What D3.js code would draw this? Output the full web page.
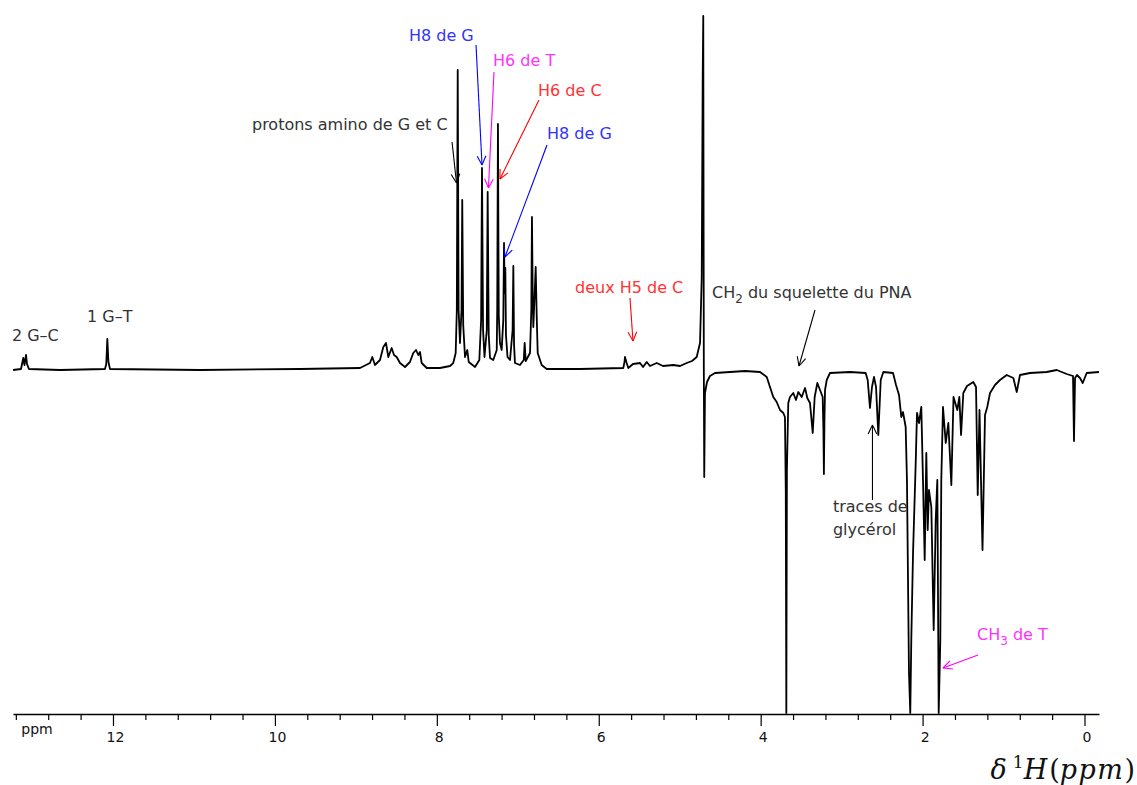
<!DOCTYPE html>
<html>
<head>
<meta charset="utf-8">
<script src="https://cdn.jsdelivr.net/npm/d3@7"></script>
<style>
  body { margin: 0; background: #fff; }
  svg { display: block; }
</style>
</head>
<body>
<div id="chart"></div>
<script>
// spectrum: [ppm, intensity] (baseline = 0)
const iminoRegion = [[13.235,0],[13.136,1],[13.108,12],[13.093,5],[13.074,15],[13.062,6],[13.038,1],
  [12.655,0],[12.099,1],[12.083,6],[12.070,31],[12.056,8],[12.037,1],[10.925,0],[9.690,1],[8.949,2]];

const aromaticRegion = [[8.826,7],[8.797,13],[8.764,5],[8.702,10],[8.661,23],[8.628,27],[8.599,13],
  [8.558,22],[8.529,15],[8.496,13],[8.455,7],[8.393,3],[8.332,8],[8.291,17],[8.257,20],[8.229,15],
  [8.208,18],[8.187,7],[8.125,2],[7.961,2],[7.837,4],[7.797,7],[7.767,17],[7.753,60],[7.742,300],
  [7.731,60],[7.714,27],[7.695,60],[7.686,170],[7.674,45],[7.652,13],[7.624,20],[7.606,8],[7.528,3],
  [7.475,10],[7.453,50],[7.442,202],[7.429,40],[7.411,13],[7.383,40],[7.372,178],[7.359,35],[7.343,12],
  [7.303,10],[7.260,20],[7.254,60],[7.245,246],[7.235,55],[7.220,27],[7.199,20],[7.179,50],[7.170,127],
  [7.162,77],[7.154,102],[7.146,35],[7.127,13],[7.096,10],[7.064,40],[7.055,104],[7.046,25],[7.035,7],
  [6.973,5],[6.926,10],[6.915,27],[6.902,9],[6.849,17],[6.833,60],[6.825,153],[6.815,70],[6.808,43],
  [6.791,77],[6.779,103],[6.766,53],[6.754,17],[6.705,5],[6.643,1],[6.232,1]];

const waterRegion = [[5.697,2],[5.682,8],[5.676,13],[5.655,7],[5.635,2],[5.577,6],[5.490,7],[5.453,3],
  [5.408,8],[5.367,4],[5.284,7],[5.206,4],[5.079,5],[4.996,4],[4.914,7],[4.848,9],[4.790,13],[4.749,27],
  [4.728,93],[4.716,293],[4.709,354],[4.702,0],[4.697,-107],[4.688,-23],[4.663,-12],[4.626,-6],
  [4.564,-3],[4.379,-2],[4.194,-1],[4.008,-2]];

const aliphaticRegion = [[3.925,-7],[3.885,-17],[3.844,-27],[3.802,-32],[3.761,-40],[3.720,-43],
  [3.700,-47],[3.690,-120],[3.683,-343],[3.676,-100],[3.659,-33],[3.638,-27],[3.597,-23],[3.564,-30],
  [3.535,-22],[3.493,-27],[3.452,-18],[3.424,-28],[3.391,-33],[3.357,-63],[3.333,-27],[3.300,-13],
  [3.267,-20],[3.234,-27],[3.225,-60],[3.219,-104],[3.212,-50],[3.205,-20],[3.184,-10],[3.144,-3],
  [2.897,-2],[2.703,-3],[2.678,-10],[2.650,-38],[2.625,-17],[2.600,-7],[2.575,-17],[2.547,-65],
  [2.517,-10],[2.485,-2],[2.365,-3],[2.328,-15],[2.291,-25],[2.263,-47],[2.242,-42],[2.209,-57],
  [2.193,-110],[2.168,-303],[2.152,-343],[2.139,-267],[2.118,-183],[2.085,-93],[2.069,-43],[2.044,-53],
  [2.016,-37],[1.995,-110],[1.974,-190],[1.954,-83],[1.937,-160],[1.921,-120],[1.892,-137],[1.863,-260],
  [1.838,-150],[1.818,-110],[1.801,-343],[1.781,-270],[1.769,-110],[1.748,-37],[1.714,-73],[1.682,-53],
  [1.645,-115],[1.618,-27],[1.571,-40],[1.546,-27],[1.525,-65],[1.497,-23],[1.451,-16],[1.374,-12],
  [1.340,-17],[1.319,-125],[1.297,-40],[1.260,-180],[1.229,-45],[1.201,-37],[1.167,-23],[1.106,-15],
  [1.044,-10],[0.961,-5],[0.879,-8],[0.837,-22],[0.797,-5],[0.673,-3],[0.467,-2],[0.343,0],[0.220,-4],
  [0.142,-6],[0.130,-71],[0.117,-8],[0.093,-5],[0.056,-8],[0.022,-13],[-0.027,-3],[-0.179,-2]];

const majorTicks = [12, 10, 8, 6, 4, 2, 0];
const minorTicks = d3.range(0, 13.3, 0.4).filter(function (d) { return Math.abs(d / 2 - Math.round(d / 2)) > 0.01; });

// labels: text, anchor [ppm, intensity], arrow from/to [ppm, intensity]
const annotations = [
  { text: "2 G–C", color: "#333", at: [13.248, 29] },
  { text: "1 G–T", color: "#333", at: [12.321, 48] },
  { text: "protons amino de G et C", color: "#333", at: [10.283, 240], from: [7.812, 228], to: [7.757, 187] },
  { text: "H8 de G", color: "#3333ff", line: "#0000ff", at: [8.344, 329], from: [7.516, 325], to: [7.442, 205] },
  { text: "H6 de T", color: "#ff33ff", line: "#ff00ff", at: [7.306, 304], from: [7.294, 298], to: [7.362, 182] },
  { text: "H6 de C", color: "#ff3333", line: "#ff0000", at: [6.750, 274], from: [6.738, 270], to: [7.220, 191] },
  { text: "H8 de G", color: "#3333ff", line: "#0000ff", at: [6.639, 231], from: [6.639, 225], to: [7.158, 113] },
  { text: "deux H5 de C", color: "#ff3333", line: "#ff0000", at: [6.293, 77], from: [5.614, 72], to: [5.577, 29] },
  { text: "CH", sub: "2", rest: " du squelette du PNA", color: "#333", at: [4.601, 72], from: [3.329, 60], to: [3.527, 4] },
  { text: "traces de", color: "#333", at: [3.107, -142], from: [2.619, -130], to: [2.619, -55] },
  { text: "glycérol", color: "#333", at: [3.107, -165] },
  { text: "CH", sub: "3", rest: " de T", color: "#ff33ff", line: "#ff00ff", at: [1.328, -270], from: [1.315, -285], to: [1.748, -298] }
];

const width = 1137, height = 785;
const font = "'DejaVu Sans', sans-serif";

const svg = d3.select("#chart").append("svg")
  .attr("width", width)
  .attr("height", height);

const x = d3.scaleLinear().domain([13.235, -0.179]).range([13, 1099]);
const y = d3.scaleLinear().domain([-344, 354]).range([714, 16]);

// axis
const axisG = svg.append("g")
  .attr("transform", "translate(0," + y(-344) + ")")
  .call(d3.axisBottom(x).tickValues(majorTicks).tickSize(12).tickPadding(6).tickSizeOuter(0)
    .tickFormat(d3.format("d")));
axisG.select(".domain").attr("stroke-width", 1.4);
axisG.selectAll(".tick line").attr("stroke-width", 1.2);
axisG.selectAll(".tick text")
  .attr("font-family", font)
  .attr("font-size", 14)
  .attr("dx", 2)
  .attr("fill", "#111");

const minorG = svg.append("g")
  .attr("transform", "translate(0," + y(-344) + ")")
  .call(d3.axisBottom(x).tickValues(minorTicks).tickSize(6).tickSizeOuter(0).tickFormat(""));
minorG.select(".domain").remove();
minorG.selectAll(".tick line").attr("stroke-width", 1.2);

svg.append("text")
  .attr("x", 37)
  .attr("y", 734)
  .attr("text-anchor", "middle")
  .attr("font-family", font)
  .attr("font-size", 14)
  .attr("fill", "#111")
  .text("ppm");

// axis title, LaTeX-like
const title = svg.append("text")
  .attr("x", 1135)
  .attr("y", 779)
  .attr("text-anchor", "end")
  .attr("font-family", "'DejaVu Serif', serif")
  .attr("font-size", 27)
  .attr("fill", "#111");
title.append("tspan").attr("font-style", "italic").text("δ");
title.append("tspan").attr("font-size", 17).attr("dx", 6).attr("dy", -11).text("1");
title.append("tspan").attr("font-style", "italic").attr("dy", 11).text("H");
title.append("tspan").attr("dx", 2).text("(");
title.append("tspan").attr("font-style", "italic").attr("letter-spacing", 1.5).text("ppm");
title.append("tspan").text(")");

// spectrum
const spectrum = iminoRegion.concat(aromaticRegion, waterRegion, aliphaticRegion);
const line = d3.line()
  .x(function (d) { return x(d[0]); })
  .y(function (d) { return y(d[1]); });

svg.append("path")
  .datum(spectrum)
  .attr("d", line)
  .attr("fill", "none")
  .attr("stroke", "#000")
  .attr("stroke-width", 1.8)
  .attr("stroke-linejoin", "round");

// annotations
function arrow(g, p0, p1, color) {
  const x0 = x(p0[0]), y0 = y(p0[1]), x1 = x(p1[0]), y1 = y(p1[1]);
  g.append("line")
    .attr("x1", x0).attr("y1", y0).attr("x2", x1).attr("y2", y1)
    .attr("stroke", color).attr("stroke-width", 1.1);
  const ang = Math.atan2(y1 - y0, x1 - x0);
  [-0.45, 0.45].forEach(function (da) {
    g.append("line")
      .attr("x1", x1).attr("y1", y1)
      .attr("x2", x1 - 10 * Math.cos(ang + da))
      .attr("y2", y1 - 10 * Math.sin(ang + da))
      .attr("stroke", color).attr("stroke-width", 1.1);
  });
}

const annG = svg.append("g");
annotations.forEach(function (a) {
  const t = annG.append("text")
    .attr("x", x(a.at[0]))
    .attr("y", y(a.at[1]))
    .attr("font-family", font)
    .attr("font-size", 16)
    .attr("fill", a.color);
  t.append("tspan").text(a.text);
  if (a.sub) {
    t.append("tspan").attr("font-size", 12).attr("dy", 5).text(a.sub);
    t.append("tspan").attr("dy", -5).text(a.rest);
  }
  if (a.from) arrow(annG, a.from, a.to, a.line || "#000");
});
</script>
</body>
</html>
